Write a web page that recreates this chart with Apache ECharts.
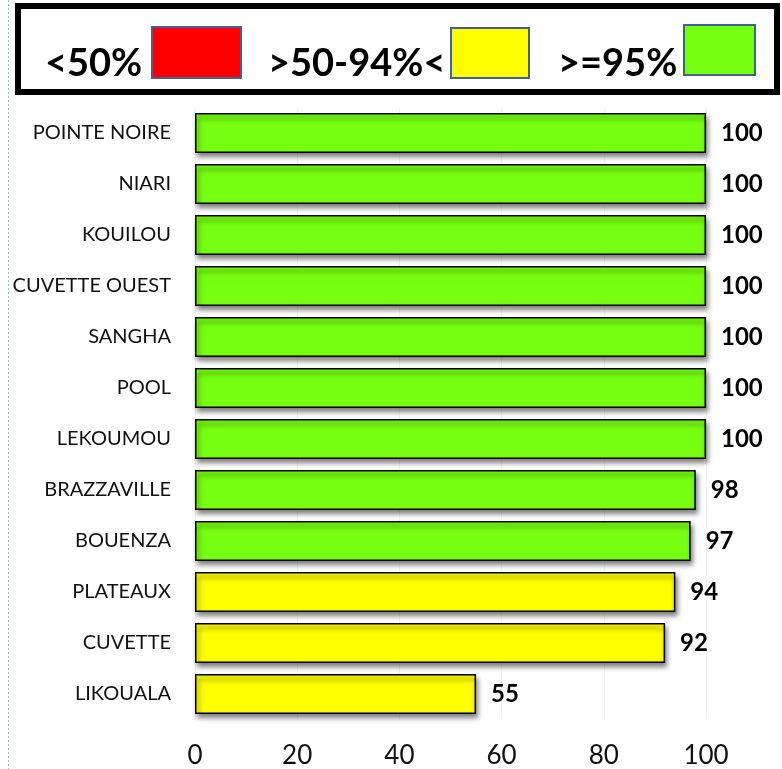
<!DOCTYPE html>
<html><head><meta charset="utf-8">
<script src="https://cdn.jsdelivr.net/npm/echarts@6/dist/echarts.min.js"></script>
<style>html,body{margin:0;padding:0;background:#fff}#c{width:782px;height:769px}</style>
</head><body><div id="c"></div>
<script>
const categories = ['POINTE NOIRE','NIARI','KOUILOU','CUVETTE OUEST','SANGHA','POOL','LEKOUMOU','BRAZZAVILLE','BOUENZA','PLATEAUX','CUVETTE','LIKOUALA'];
const values = [100,100,100,100,100,100,100,98,97,94,92,55];
const xTicks = [0,20,40,60,80,100];
const classNames = ['<50%','>50-94%<','>=95%'];
const classColors = ['#ff0000','#ffff00','#77ff11'];

function cls(v){ return v < 50 ? 0 : (v < 95 ? 1 : 2); }
const FONT = 'Lato, "Open Sans", sans-serif';

const series = classNames.map((name, ci) => ({
  name: name,
  type: 'bar',
  stack: 'all',
  barWidth: '78%',
  data: values.map(v => cls(v) === ci ? v : null),
  itemStyle: {
    color: classColors[ci], borderColor: '#000', borderWidth: 1.5,
    shadowColor: 'rgba(0,0,0,0.55)', shadowBlur: 5, shadowOffsetX: 2, shadowOffsetY: 4
  },
  label: {
    show: true, position: 'right', distance: 15, fontFamily: FONT,
    fontSize: 24, fontWeight: 'bold', color: '#000'
  }
}));

// legend key (decoration): text start x, swatch rect
const keyLayout = [
  {tx: 45, sw: [152, 27, 89, 51]},
  {tx: 268, sw: [451, 28, 78, 50]},
  {tx: 558, sw: [684, 25, 71, 50]}
];
const keyGraphics = [];
classNames.forEach((n, i) => {
  const k = keyLayout[i];
  keyGraphics.push({type: 'text', x: k.tx, y: 45, z: 20,
    style: {text: n, font: 'bold 38px ' + FONT, fill: '#000', align: 'left', verticalAlign: 'top'}});
  keyGraphics.push({type: 'rect', z: 20,
    shape: {x: k.sw[0], y: k.sw[1], width: k.sw[2], height: k.sw[3]},
    style: {fill: classColors[i], stroke: '#3f5f9f', lineWidth: 2}});
});

const chart = echarts.init(document.getElementById('c'), null, {renderer: 'canvas'});
chart.setOption({
  animation: false,
  backgroundColor: '#fff',
  grid: {left: 195, right: 76, top: 107.5, bottom: 49.5, containLabel: false},
  legend: {show: false},
  xAxis: {
    type: 'value', min: 0, max: 100, interval: 20,
    axisLine: {show: false}, axisTick: {show: false},
    splitLine: {show: true, lineStyle: {color: '#f2f2f2', width: 1}},
    axisLabel: {fontFamily: FONT, fontSize: 26, color: '#111', margin: 23,
      formatter: v => xTicks.includes(v) ? String(v) : ''}
  },
  yAxis: {
    type: 'category', data: categories, inverse: true,
    axisLine: {show: false}, axisTick: {show: false},
    axisLabel: {fontFamily: FONT, fontSize: 20, color: '#111', margin: 24}
  },
  graphic: [
    {type: 'rect', shape: {x: 18, y: 6, width: 759, height: 86},
      style: {fill: 'none', stroke: '#000', lineWidth: 6}, z: 10},
    {type: 'line', shape: {x1: 8.5, y1: 0, x2: 8.5, y2: 769},
      style: {stroke: '#9fb4ea', lineWidth: 1, lineDash: [2, 2]}}
  ].concat(keyGraphics),
  series: series
});
</script></body></html>
